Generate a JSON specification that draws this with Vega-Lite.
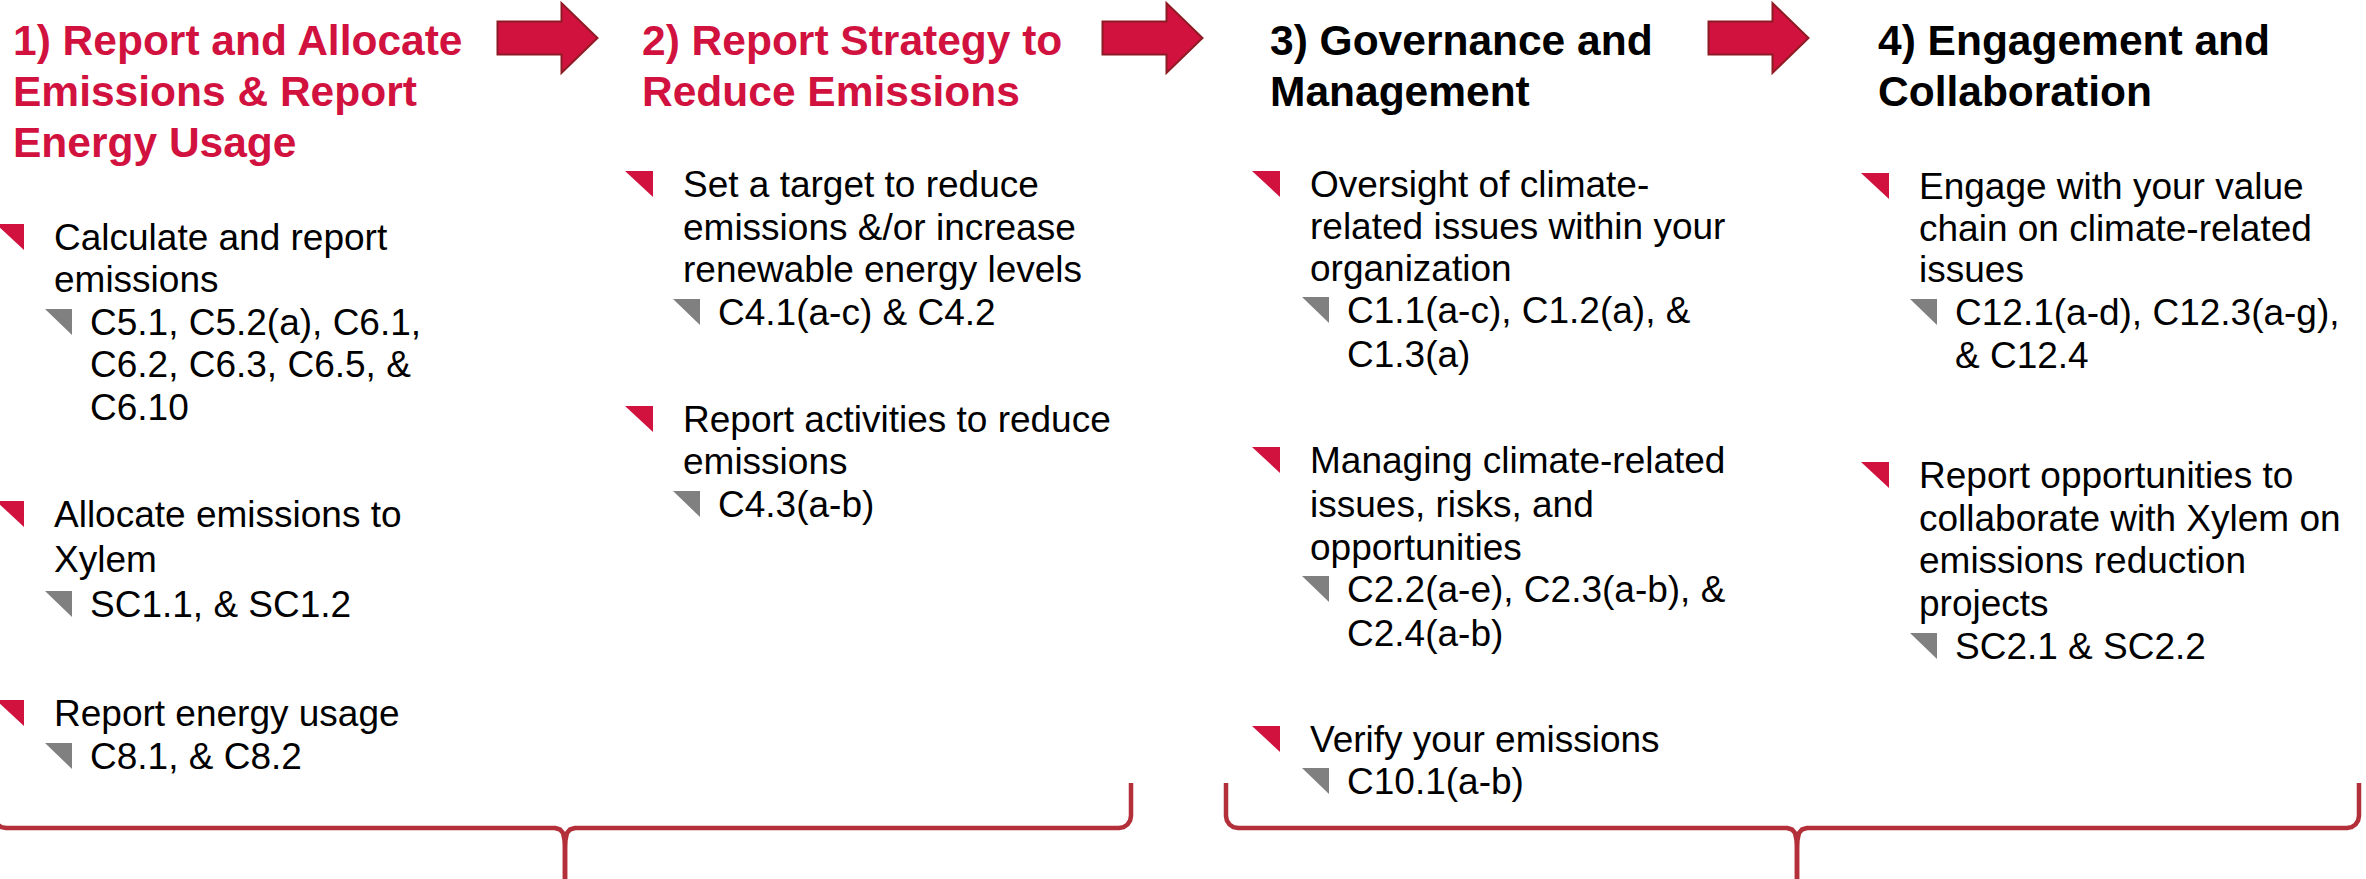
{
  "$schema": "https://vega.github.io/schema/vega-lite/v6.json",
  "width": 2366,
  "height": 879,
  "autosize": "none",
  "padding": 0,
  "background": "white",
  "config": {"view": {"stroke": null}, "font": "Liberation Sans"},
  "datasets": {
    "heads": [
      {"step": 1, "x": 13, "y": 55, "t": "1) Report and Allocate"},
      {"step": 1, "x": 13, "y": 106, "t": "Emissions & Report"},
      {"step": 1, "x": 13, "y": 157, "t": "Energy Usage"},
      {"step": 2, "x": 642, "y": 55, "t": "2) Report Strategy to"},
      {"step": 2, "x": 642, "y": 106, "t": "Reduce Emissions"},
      {"step": 3, "x": 1270, "y": 55, "t": "3) Governance and"},
      {"step": 3, "x": 1270, "y": 106, "t": "Management"},
      {"step": 4, "x": 1878, "y": 55, "t": "4) Engagement and"},
      {"step": 4, "x": 1878, "y": 106, "t": "Collaboration"}
    ],
    "items": [
      {"level": "main", "bullet": true, "x": 54, "y": 250, "t": "Calculate and report"},
      {"level": "main", "bullet": false, "x": 54, "y": 292, "t": "emissions"},
      {"level": "sub", "bullet": true, "x": 90, "y": 335, "t": "C5.1, C5.2(a), C6.1,"},
      {"level": "sub", "bullet": false, "x": 90, "y": 377, "t": "C6.2, C6.3, C6.5, &"},
      {"level": "sub", "bullet": false, "x": 90, "y": 420, "t": "C6.10"},
      {"level": "main", "bullet": true, "x": 54, "y": 527, "t": "Allocate emissions to"},
      {"level": "main", "bullet": false, "x": 54, "y": 572, "t": "Xylem"},
      {"level": "sub", "bullet": true, "x": 90, "y": 617, "t": "SC1.1, & SC1.2"},
      {"level": "main", "bullet": true, "x": 54, "y": 726, "t": "Report energy usage"},
      {"level": "sub", "bullet": true, "x": 90, "y": 769, "t": "C8.1, & C8.2"},

      {"level": "main", "bullet": true, "x": 683, "y": 197, "t": "Set a target to reduce"},
      {"level": "main", "bullet": false, "x": 683, "y": 240, "t": "emissions &/or increase"},
      {"level": "main", "bullet": false, "x": 683, "y": 282, "t": "renewable energy levels"},
      {"level": "sub", "bullet": true, "x": 718, "y": 325, "t": "C4.1(a-c) & C4.2"},
      {"level": "main", "bullet": true, "x": 683, "y": 432, "t": "Report activities to reduce"},
      {"level": "main", "bullet": false, "x": 683, "y": 474, "t": "emissions"},
      {"level": "sub", "bullet": true, "x": 718, "y": 517, "t": "C4.3(a-b)"},

      {"level": "main", "bullet": true, "x": 1310, "y": 197, "t": "Oversight of climate-"},
      {"level": "main", "bullet": false, "x": 1310, "y": 239, "t": "related issues within your"},
      {"level": "main", "bullet": false, "x": 1310, "y": 281, "t": "organization"},
      {"level": "sub", "bullet": true, "x": 1347, "y": 323, "t": "C1.1(a-c), C1.2(a), &"},
      {"level": "sub", "bullet": false, "x": 1347, "y": 367, "t": "C1.3(a)"},
      {"level": "main", "bullet": true, "x": 1310, "y": 473, "t": "Managing climate-related"},
      {"level": "main", "bullet": false, "x": 1310, "y": 517, "t": "issues, risks, and"},
      {"level": "main", "bullet": false, "x": 1310, "y": 560, "t": "opportunities"},
      {"level": "sub", "bullet": true, "x": 1347, "y": 602, "t": "C2.2(a-e), C2.3(a-b), &"},
      {"level": "sub", "bullet": false, "x": 1347, "y": 646, "t": "C2.4(a-b)"},
      {"level": "main", "bullet": true, "x": 1310, "y": 752, "t": "Verify your emissions"},
      {"level": "sub", "bullet": true, "x": 1347, "y": 794, "t": "C10.1(a-b)"},

      {"level": "main", "bullet": true, "x": 1919, "y": 199, "t": "Engage with your value"},
      {"level": "main", "bullet": false, "x": 1919, "y": 241, "t": "chain on climate-related"},
      {"level": "main", "bullet": false, "x": 1919, "y": 282, "t": "issues"},
      {"level": "sub", "bullet": true, "x": 1955, "y": 325, "t": "C12.1(a-d), C12.3(a-g),"},
      {"level": "sub", "bullet": false, "x": 1955, "y": 368, "t": "& C12.4"},
      {"level": "main", "bullet": true, "x": 1919, "y": 488, "t": "Report opportunities to"},
      {"level": "main", "bullet": false, "x": 1919, "y": 531, "t": "collaborate with Xylem on"},
      {"level": "main", "bullet": false, "x": 1919, "y": 573, "t": "emissions reduction"},
      {"level": "main", "bullet": false, "x": 1919, "y": 616, "t": "projects"},
      {"level": "sub", "bullet": true, "x": 1955, "y": 659, "t": "SC2.1 & SC2.2"}
    ],
    "arrows": [
      {"x": 547.5, "y": 38},
      {"x": 1152.5, "y": 38},
      {"x": 1758.5, "y": 38}
    ],
    "braces": [
      {"seg": "b1L", "i": 0, "x": -6, "y": 783},
      {"seg": "b1L", "i": 1, "x": -6, "y": 816},
      {"seg": "b1L", "i": 2, "x": -5.1, "y": 820.6},
      {"seg": "b1L", "i": 3, "x": -2.5, "y": 824.5},
      {"seg": "b1L", "i": 4, "x": 1.4, "y": 827.1},
      {"seg": "b1L", "i": 5, "x": 6, "y": 828},
      {"seg": "b1L", "i": 6, "x": 555, "y": 828},
      {"seg": "b1L", "i": 7, "x": 560, "y": 829.5},
      {"seg": "b1L", "i": 8, "x": 563, "y": 833},
      {"seg": "b1L", "i": 9, "x": 564.5, "y": 840},
      {"seg": "b1L", "i": 10, "x": 565, "y": 850},
      {"seg": "b1L", "i": 11, "x": 565, "y": 879},
      {"seg": "b1R", "i": 0, "x": 1131, "y": 783},
      {"seg": "b1R", "i": 1, "x": 1131, "y": 816},
      {"seg": "b1R", "i": 2, "x": 1130.1, "y": 820.6},
      {"seg": "b1R", "i": 3, "x": 1127.5, "y": 824.5},
      {"seg": "b1R", "i": 4, "x": 1123.6, "y": 827.1},
      {"seg": "b1R", "i": 5, "x": 1119, "y": 828},
      {"seg": "b1R", "i": 6, "x": 575, "y": 828},
      {"seg": "b1R", "i": 7, "x": 570, "y": 829.5},
      {"seg": "b1R", "i": 8, "x": 567, "y": 833},
      {"seg": "b1R", "i": 9, "x": 565.5, "y": 840},
      {"seg": "b1R", "i": 10, "x": 565, "y": 850},
      {"seg": "b1R", "i": 11, "x": 565, "y": 879},
      {"seg": "b2L", "i": 0, "x": 1226, "y": 783},
      {"seg": "b2L", "i": 1, "x": 1226, "y": 816},
      {"seg": "b2L", "i": 2, "x": 1226.9, "y": 820.6},
      {"seg": "b2L", "i": 3, "x": 1229.5, "y": 824.5},
      {"seg": "b2L", "i": 4, "x": 1233.4, "y": 827.1},
      {"seg": "b2L", "i": 5, "x": 1238, "y": 828},
      {"seg": "b2L", "i": 6, "x": 1787, "y": 828},
      {"seg": "b2L", "i": 7, "x": 1792, "y": 829.5},
      {"seg": "b2L", "i": 8, "x": 1795, "y": 833},
      {"seg": "b2L", "i": 9, "x": 1796.5, "y": 840},
      {"seg": "b2L", "i": 10, "x": 1797, "y": 850},
      {"seg": "b2L", "i": 11, "x": 1797, "y": 879},
      {"seg": "b2R", "i": 0, "x": 2359, "y": 783},
      {"seg": "b2R", "i": 1, "x": 2359, "y": 816},
      {"seg": "b2R", "i": 2, "x": 2358.1, "y": 820.6},
      {"seg": "b2R", "i": 3, "x": 2355.5, "y": 824.5},
      {"seg": "b2R", "i": 4, "x": 2351.6, "y": 827.1},
      {"seg": "b2R", "i": 5, "x": 2347, "y": 828},
      {"seg": "b2R", "i": 6, "x": 1807, "y": 828},
      {"seg": "b2R", "i": 7, "x": 1802, "y": 829.5},
      {"seg": "b2R", "i": 8, "x": 1799, "y": 833},
      {"seg": "b2R", "i": 9, "x": 1797.5, "y": 840},
      {"seg": "b2R", "i": 10, "x": 1797, "y": 850},
      {"seg": "b2R", "i": 11, "x": 1797, "y": 879}
    ]
  },
  "encoding": {
    "x": {"field": "x", "type": "quantitative", "scale": {"domain": [0, 2366], "nice": false, "zero": false}, "axis": null},
    "y": {"field": "y", "type": "quantitative", "scale": {"domain": [0, 879], "reverse": true, "nice": false, "zero": false}, "axis": null}
  },
  "layer": [
    {
      "data": {"name": "braces"},
      "mark": {"type": "line", "color": "#B3303A", "strokeWidth": 4.5, "strokeJoin": "round"},
      "encoding": {
        "detail": {"field": "seg", "type": "nominal"},
        "order": {"field": "i", "type": "quantitative"}
      }
    },
    {
      "data": {"name": "arrows"},
      "mark": {"type": "point", "filled": true, "fill": "#D1123F", "stroke": "#8E1B24", "strokeWidth": 2, "opacity": 1, "fillOpacity": 1, "strokeOpacity": 1,
               "shape": "M-1,-0.33L0.28,-0.33L0.28,-0.7L1,0L0.28,0.7L0.28,0.33L-1,0.33Z", "size": 10000}
    },
    {
      "data": {"name": "items"},
      "transform": [{"filter": "datum.bullet && datum.level == 'main'"}],
      "mark": {"type": "point", "filled": true, "color": "#D1123F", "opacity": 1, "strokeWidth": 0,
               "shape": "M-4.143,-1.857L-2.143,-1.857L-2.143,0Z", "size": 784}
    },
    {
      "data": {"name": "items"},
      "transform": [{"filter": "datum.bullet && datum.level == 'sub'"}],
      "mark": {"type": "point", "filled": true, "color": "#808080", "opacity": 1, "strokeWidth": 0,
               "shape": "M-3.214,-1.857L-1.286,-1.857L-1.286,0Z", "size": 784}
    },
    {
      "data": {"name": "heads"},
      "mark": {"type": "text", "align": "left", "baseline": "alphabetic", "fontSize": 42.5, "fontWeight": "bold", "font": "Liberation Sans"},
      "encoding": {
        "text": {"field": "t", "type": "nominal"},
        "color": {"field": "step", "type": "nominal", "scale": {"domain": [1, 2, 3, 4], "range": ["#D1123F", "#D1123F", "#000000", "#000000"]}, "legend": null}
      }
    },
    {
      "data": {"name": "items"},
      "mark": {"type": "text", "align": "left", "baseline": "alphabetic", "fontSize": 37, "font": "Liberation Sans", "color": "#000000"},
      "encoding": {
        "text": {"field": "t", "type": "nominal"}
      }
    }
  ]
}
